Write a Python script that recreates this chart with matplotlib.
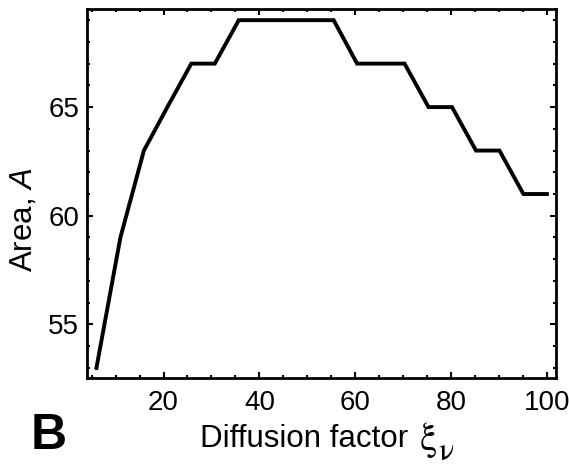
import numpy as np
import matplotlib.pyplot as plt
from matplotlib.ticker import MultipleLocator

# diffusion factor vs area
xi = [6, 11, 15.9, 20.8, 25.8, 30.7, 35.7, 40.6, 45.6, 50.5,
      55.5, 60.4, 65.4, 70.3, 75.3, 80.2, 85.2, 90.1, 95.1, 100]
area = [53, 59, 63, 65, 67, 67, 69, 69, 69, 69,
        69, 67, 67, 67, 65, 65, 63, 63, 61, 61]

plt.rcParams['font.family'] = 'Liberation Sans'
plt.rcParams['mathtext.fontset'] = 'custom'
plt.rcParams['mathtext.it'] = 'Liberation Sans:italic'
plt.rcParams['mathtext.rm'] = 'Liberation Sans'

fig = plt.figure(figsize=(5.69, 4.69), dpi=100)
ax = fig.add_axes([0.1535, 0.1947, 0.8245, 0.7855])

ax.plot(xi, area, color='black', linewidth=2.8, solid_joinstyle='miter')

ax.set_xlim(4.1, 102)
ax.set_ylim(52.55, 69.5)
ax.xaxis.set_major_locator(MultipleLocator(20))
ax.xaxis.set_minor_locator(MultipleLocator(5))
ax.yaxis.set_major_locator(MultipleLocator(5))
ax.yaxis.set_minor_locator(MultipleLocator(1))

for s in ax.spines.values():
    s.set_linewidth(2)
ax.tick_params(which='both', direction='in', top=True, right=True,
               labelsize=20, width=1.5)
ax.tick_params(which='major', length=4)
ax.tick_params(which='minor', length=2.5)
ax.tick_params(axis='x', pad=9)
ax.tick_params(axis='y', pad=6)

# y label, sits a bit below the axes centre
ax.set_ylabel(r'Area, $A$', fontsize=22.5)
ax.yaxis.set_label_coords(39 / 569, 1 - 220 / 469, transform=fig.transFigure)

# x label built from pieces: big upright serif xi with a large nu below
fig.text(200 / 569, 1 - 447 / 469, 'Diffusion factor', fontsize=22.5,
         ha='left', va='baseline')
fig.text(419 / 569, 1 - 450 / 469, r'$\mathrm{\xi}$', fontsize=28,
         math_fontfamily='stix', ha='left', va='baseline')
fig.text(438 / 569, 1 - 460 / 469, r'$\mathrm{\nu}$', fontsize=23,
         math_fontfamily='stix', ha='left', va='baseline')

fig.text(31 / 569, 1 - 449 / 469, 'B', fontsize=36, fontweight='bold',
         ha='left', va='baseline')

plt.savefig('out.png', dpi=100)
